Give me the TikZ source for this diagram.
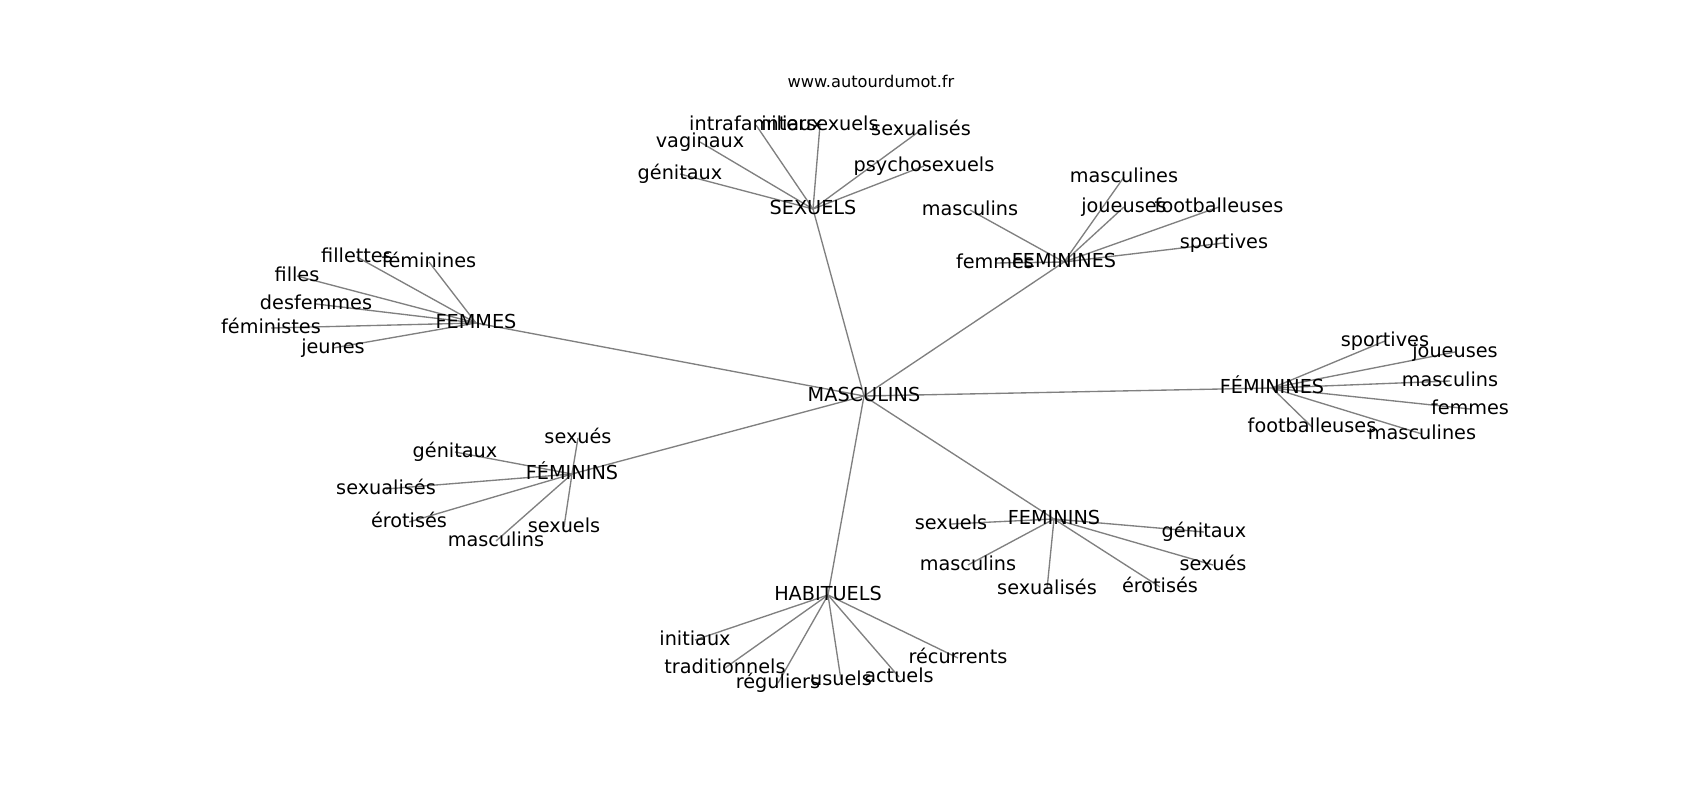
\documentclass[tikz,border=0pt]{standalone}
\usepackage{fontspec}
\setmainfont{DejaVu Sans}
\pgfdeclarelayer{bg}
\pgfsetlayers{bg,main}
\begin{document}
\begin{tikzpicture}[x=0.4612pt,y=-0.4612pt,
  lbl/.style={inner sep=0pt, outer sep=0pt, anchor=center,
    font=\fontsize{8.88}{10}\selectfont, text height=6.75pt, text depth=2.13pt},
  ttl/.style={inner sep=0pt, outer sep=0pt, anchor=center,
    font=\fontsize{7.47}{9}\selectfont, text height=5.68pt, text depth=1.79pt},
  edge/.style={draw={rgb,255:red,128;green,128;blue,128}, line width=0.62pt}]
\useasboundingbox (0,0) rectangle (1700,800);
\node[ttl] (t) at (871,83) {www.autourdumot.fr};
% hubs
\node[lbl] (M) at (864,396) {MASCULINS};
\node[lbl] (S) at (813,209) {SEXUELS};
\node[lbl] (F1) at (1064,262) {FEMININES};
\node[lbl] (FM) at (476,323) {FEMMES};
\node[lbl] (F2) at (1272,388) {FÉMININES};
\node[lbl] (F3) at (572,474) {FÉMININS};
\node[lbl] (F4) at (1054,519) {FEMININS};
\node[lbl] (H) at (828,595) {HABITUELS};
% SEXUELS
\node[lbl] (s1) at (680,174) {génitaux};
\node[lbl] (s2) at (700,142) {vaginaux};
\node[lbl] (s3) at (756,125) {intrafamiliaux};
\node[lbl] (s4) at (820,125) {intersexuels};
\node[lbl] (s5) at (921,130) {sexualisés};
\node[lbl] (s6) at (924,166) {psychosexuels};
% FEMININES upper
\node[lbl] (a1) at (970,210) {masculins};
\node[lbl] (a2) at (995,263) {femmes};
\node[lbl] (a3) at (1124,177) {masculines};
\node[lbl] (a4) at (1124,207) {joueuses};
\node[lbl] (a5) at (1219,207) {footballeuses};
\node[lbl] (a6) at (1224,243) {sportives};
% FEMMES
\node[lbl] (b1) at (357,257) {fillettes};
\node[lbl] (b2) at (429,262) {féminines};
\node[lbl] (b3) at (297,276) {filles};
\node[lbl] (b4) at (316,304) {desfemmes};
\node[lbl] (b5) at (271,328) {féministes};
\node[lbl] (b6) at (333,348) {jeunes};
% FÉMININES right
\node[lbl] (c1) at (1385,341) {sportives};
\node[lbl] (c2) at (1455,352) {joueuses};
\node[lbl] (c3) at (1450,381) {masculins};
\node[lbl] (c4) at (1470,409) {femmes};
\node[lbl] (c5) at (1422,434) {masculines};
\node[lbl] (c6) at (1312,427) {footballeuses};
% FÉMININS left
\node[lbl] (d1) at (578,438) {sexués};
\node[lbl] (d2) at (455,452) {génitaux};
\node[lbl] (d3) at (386,489) {sexualisés};
\node[lbl] (d4) at (409,522) {érotisés};
\node[lbl] (d5) at (496,541) {masculins};
\node[lbl] (d6) at (564,527) {sexuels};
% FEMININS lower right
\node[lbl] (e1) at (951,524) {sexuels};
\node[lbl] (e2) at (968,565) {masculins};
\node[lbl] (e3) at (1047,589) {sexualisés};
\node[lbl] (e4) at (1160,587) {érotisés};
\node[lbl] (e5) at (1213,565) {sexués};
\node[lbl] (e6) at (1204,532) {génitaux};
% HABITUELS
\node[lbl] (h1) at (695,640) {initiaux};
\node[lbl] (h2) at (725,668) {traditionnels};
\node[lbl] (h3) at (778,683) {réguliers};
\node[lbl] (h4) at (841,680) {usuels};
\node[lbl] (h5) at (899,677) {actuels};
\node[lbl] (h6) at (958,658) {récurrents};
\begin{pgfonlayer}{bg}
\foreach \h in {S,F1,FM,F2,F3,F4,H}
  \draw[edge] (M.center) -- (\h.center);
\foreach \i in {1,...,6} {
  \draw[edge] (S.center) -- (s\i.center);
  \draw[edge] (F1.center) -- (a\i.center);
  \draw[edge] (FM.center) -- (b\i.center);
  \draw[edge] (F2.center) -- (c\i.center);
  \draw[edge] (F3.center) -- (d\i.center);
  \draw[edge] (F4.center) -- (e\i.center);
  \draw[edge] (H.center) -- (h\i.center);
}
\end{pgfonlayer}
\end{tikzpicture}
\end{document}
